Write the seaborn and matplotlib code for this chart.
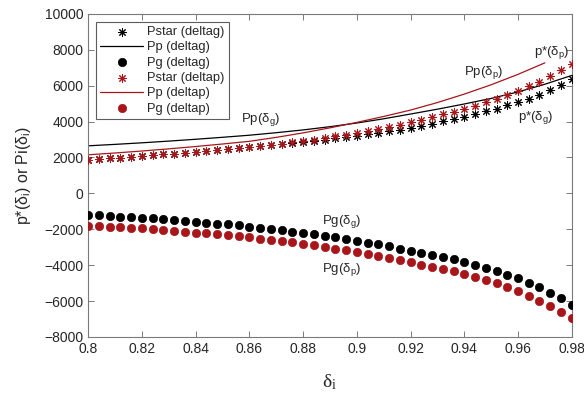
import numpy as np
import pandas as pd
import matplotlib
matplotlib.use("Agg")
import matplotlib.pyplot as plt
import seaborn as sns

# ---------------- data ----------------
delta = [0.800, 0.804, 0.808, 0.812, 0.816, 0.820, 0.824, 0.828, 0.832, 0.836,
         0.840, 0.844, 0.848, 0.852, 0.856, 0.860, 0.864, 0.868, 0.872, 0.876,
         0.880, 0.884, 0.888, 0.892, 0.896, 0.900, 0.904, 0.908, 0.912, 0.916,
         0.920, 0.924, 0.928, 0.932, 0.936, 0.940, 0.944, 0.948, 0.952, 0.956,
         0.960, 0.964, 0.968, 0.972, 0.976, 0.980]

pstar_g = [1880, 1918, 1957, 1997, 2038, 2080, 2123, 2167, 2212, 2258,
           2305, 2353, 2402, 2452, 2504, 2558, 2614, 2672, 2732, 2794,
           2858, 2924, 2992, 3062, 3134, 3209, 3287, 3369, 3455, 3547,
           3647, 3767, 3887, 4012, 4142, 4277, 4417, 4567, 4727, 4897,
           5082, 5282, 5497, 5737, 6027, 6357]

pstar_p = [1880, 1918, 1957, 1997, 2038, 2080, 2123, 2167, 2212, 2258,
           2305, 2353, 2402, 2452, 2504, 2560, 2620, 2685, 2760, 2835,
           2915, 3000, 3085, 3180, 3275, 3380, 3480, 3590, 3710, 3830,
           3970, 4110, 4255, 4400, 4550, 4715, 4885, 5070, 5260, 5460,
           5720, 5960, 6220, 6540, 6870, 7200]

pg_g = [-1178, -1215, -1270, -1307, -1325, -1362, -1399, -1454, -1491, -1546,
        -1583, -1638, -1693, -1730, -1785, -1859, -1919, -1984, -2054, -2126,
        -2201, -2281, -2366, -2454, -2546, -2641, -2741, -2846, -2956, -3071,
        -3203, -3315, -3430, -3550, -3680, -3820, -3970, -4140, -4320, -4520,
        -4740, -4980, -5240, -5530, -5850, -6220]

pg_p = [-1822, -1822, -1859, -1877, -1914, -1951, -2006, -2043, -2098, -2135,
        -2190, -2227, -2282, -2337, -2392, -2450, -2515, -2585, -2658, -2735,
        -2815, -2900, -2988, -3080, -3176, -3276, -3381, -3491, -3606, -3724,
        -3847, -3965, -4085, -4215, -4350, -4495, -4650, -4825, -5020, -5230,
        -5460, -5710, -5980, -6270, -6590, -6940]

delta_line_g = [0.80, 0.81, 0.82, 0.83, 0.84, 0.85, 0.86, 0.87, 0.88, 0.89,
                0.90, 0.91, 0.92, 0.93, 0.94, 0.95, 0.96, 0.97, 0.98]
pp_g = [2650, 2730, 2817, 2912, 3014, 3124, 3240, 3380, 3535, 3715,
        3920, 4155, 4420, 4690, 4980, 5290, 5650, 6080, 6570]

delta_line_p = [0.80, 0.81, 0.82, 0.83, 0.84, 0.85, 0.86, 0.87, 0.88, 0.89,
                0.90, 0.91, 0.92, 0.93, 0.94, 0.95, 0.96, 0.97]
pp_p = [2150, 2250, 2360, 2480, 2610, 2750, 2900, 3120, 3370, 3650,
        3955, 4285, 4640, 5060, 5530, 6050, 6630, 7270]

legend_labels = ["Pstar (deltag)", "Pp (deltag)", "Pg (deltag)",
                 "Pstar (deltap)", "Pp (deltap)", "Pg (deltap)"]

x_ticks = [0.80, 0.82, 0.84, 0.86, 0.88, 0.90, 0.92, 0.94, 0.96, 0.98]
x_tick_labels = ["0.8", "0.82", "0.84", "0.86", "0.88", "0.9", "0.92", "0.94", "0.96", "0.98"]
y_ticks = [-8000, -6000, -4000, -2000, 0, 2000, 4000, 6000, 8000, 10000]

# ---------------- style ----------------
sns.set_style("ticks")
plt.rcParams["font.family"] = ["Liberation Sans", "DejaVu Sans"]
plt.rcParams["mathtext.default"] = "regular"

BLACK = "#000000"
RED = "#A8161A"
AX_GRAY = "#7a7a7a"
TXT = "#262626"

fig, ax = plt.subplots(figsize=(5.84, 3.96), dpi=100)
fig.subplots_adjust(left=0.151, right=0.979, top=0.965, bottom=0.149)

star = (8, 2, 0)
sns.scatterplot(x=delta, y=pstar_g, marker=star, s=30, color=BLACK,
                linewidth=0.75, ax=ax, label=legend_labels[0], zorder=3)
sns.lineplot(x=delta_line_g, y=pp_g, color=BLACK, linewidth=0.9, ax=ax,
             label=legend_labels[1], zorder=2)
sns.scatterplot(x=delta, y=pg_g, marker="o", s=36, color=BLACK,
                edgecolor=BLACK, linewidth=0.5, ax=ax, label=legend_labels[2], zorder=3)
sns.scatterplot(x=delta, y=pstar_p, marker=star, s=30, color=RED,
                linewidth=0.75, ax=ax, label=legend_labels[3], zorder=3)
sns.lineplot(x=delta_line_p, y=pp_p, color=RED, linewidth=0.9, ax=ax,
             label=legend_labels[4], zorder=2)
sns.scatterplot(x=delta, y=pg_p, marker="o", s=36, color=RED,
                edgecolor=RED, linewidth=0.5, ax=ax, label=legend_labels[5], zorder=3)

ax.set_xlim(0.8, 0.98)
ax.set_ylim(-8000, 10000)
ax.set_xticks(x_ticks)
ax.set_xticklabels(x_tick_labels)
ax.set_yticks(y_ticks)
ax.tick_params(direction="in", top=True, right=True, length=4, width=0.7,
               colors=AX_GRAY, labelcolor=TXT, labelsize=10)
for sp in ax.spines.values():
    sp.set_visible(True)
    sp.set_color(AX_GRAY)
    sp.set_linewidth(0.8)

ax.set_xlabel(r"$\delta_i$", family="Liberation Serif", fontsize=14, color=TXT, labelpad=12)
ax.set_ylabel(r"p*($\delta_i$) or Pi($\delta_i$)", fontsize=11.5, color=TXT, labelpad=8)

leg = ax.legend(loc="upper left", fontsize=9.3, frameon=True, fancybox=False,
                edgecolor="#333333", borderpad=0.35, labelspacing=0.25,
                handlelength=3.3, handletextpad=0.3, borderaxespad=0.6)
leg.get_frame().set_linewidth(0.8)

ann = dict(fontsize=9.5, color=TXT, va="center", ha="left")
ax.text(0.857, 4140, r"Pp($\delta_g$)", **ann)
ax.text(0.940, 6740, r"Pp($\delta_p$)", **ann)
ax.text(0.966, 7840, r"p*($\delta_p$)", **ann)
ax.text(0.960, 4250, r"p*($\delta_g$)", **ann)
ax.text(0.887, -1550, r"Pg($\delta_g$)", **ann)
ax.text(0.887, -4250, r"Pg($\delta_p$)", **ann)

fig.savefig("out.png", dpi=100)
